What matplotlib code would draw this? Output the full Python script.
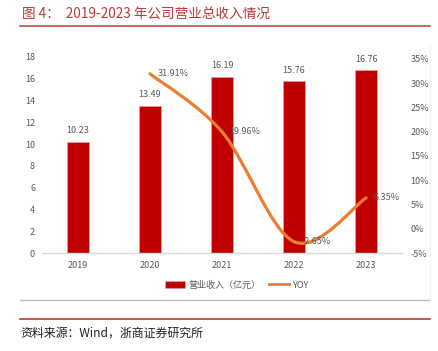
import numpy as np
import matplotlib
matplotlib.use("Agg")
import matplotlib.pyplot as plt
from matplotlib.path import Path
from matplotlib.patches import PathPatch, Rectangle
from matplotlib.lines import Line2D

plt.rcParams['font.family'] = ['Noto Sans CJK SC', 'DejaVu Sans']

years = ["2019", "2020", "2021", "2022", "2023"]
revenue = [10.23, 13.49, 16.19, 15.76, 16.76]
yoy_years = ["2020", "2021", "2022", "2023"]
yoy = [31.91, 19.96, -2.65, 6.35]

left_ticks = list(range(0, 19, 2))
right_ticks = list(range(-5, 36, 5))

BAR = "#C00000"
LINE = "#ED7D31"
GRAY = "#595959"
RED = "#C0504D"


def smooth_path(xs, ys):
    # excel-style smoothed line: catmull-rom as cubic bezier segments
    pts = np.column_stack([xs, ys]).astype(float)
    ext = np.vstack([pts[0], pts, pts[-1]])
    verts = [tuple(pts[0])]
    codes = [Path.MOVETO]
    for i in range(1, len(ext) - 2):
        p0, p1, p2, p3 = ext[i - 1], ext[i], ext[i + 1], ext[i + 2]
        c1 = p1 + (p2 - p0) / 6.0
        c2 = p2 - (p3 - p1) / 6.0
        verts += [tuple(c1), tuple(c2), tuple(p2)]
        codes += [Path.CURVE4] * 3
    return Path(verts, codes)


fig = plt.figure(figsize=(4.39, 3.51), dpi=100)
ax = fig.add_axes([0.0957, 0.279, 0.82, 0.559])

x = np.arange(len(years))
ax.bar(x, revenue, width=0.31, color=BAR, edgecolor="#E8A0A0", linewidth=0.5, zorder=2)
for xi, v in zip(x, revenue):
    ax.text(xi, v + 0.6, f"{v:.2f}", ha="center", va="bottom", fontsize=6.5, color=GRAY)

ax.set_xlim(-0.5, len(years) - 0.5)
ax.set_ylim(0, 18)
ax.set_yticks(left_ticks)
ax.set_xticks(x)
ax.set_xticklabels(years)
ax.tick_params(axis="both", length=0, labelsize=6.5, labelcolor=GRAY)
ax.tick_params(axis="x", pad=6)
ax.tick_params(axis="y", pad=5)
for s in ["top", "right", "left"]:
    ax.spines[s].set_visible(False)
ax.spines["bottom"].set_color("#D9D9D9")
ax.spines["bottom"].set_linewidth(1)

ax2 = ax.twinx()
ax2.set_ylim(-5, 35.4)
ax2.set_yticks(right_ticks)
ax2.set_yticklabels([f"{t}%" for t in right_ticks])
ax2.tick_params(axis="y", length=0, labelsize=6.5, labelcolor=GRAY, pad=6)
for s in ax2.spines.values():
    s.set_visible(False)

xy = np.array([years.index(y) for y in yoy_years])
ax2.add_patch(PathPatch(smooth_path(xy, yoy), facecolor="none", edgecolor=LINE,
                        linewidth=2.3, capstyle="round", zorder=3))
for xi, v in zip(xy, yoy):
    ax2.text(xi + 0.1, v, f"{v:.2f}%", ha="left", va="center", fontsize=6.5, color=GRAY, zorder=4)

handles = [Rectangle((0, 0), 1, 1, facecolor=BAR, edgecolor="#E8A0A0", linewidth=0.5),
           Line2D([0], [0], color=LINE, linewidth=2)]
fig.legend(handles, ["营业收入（亿元）", "YOY"], loc="center", bbox_to_anchor=(0.54, 0.188),
           ncol=2, frameon=False, fontsize=6.5, labelcolor=GRAY, handlelength=2.2,
           handleheight=0.8, columnspacing=1.0, handletextpad=0.4)

# frame lines of the report page
fig.add_artist(Line2D([20 / 439, 430 / 439], [1 - 26 / 351] * 2, color=RED, linewidth=1.2))
fig.add_artist(Line2D([20 / 439, 430 / 439], [1 - 300 / 351] * 2, color="#BFBFBF", linewidth=1))
fig.add_artist(Line2D([430 / 439] * 2, [1 - 45 / 351, 1 - 300 / 351], color="#F2F2F2", linewidth=0.8))
fig.add_artist(Line2D([20 / 439, 430 / 439], [1 - 319 / 351] * 2, color="#C0392B", linewidth=1.2))

fig.text(22 / 439, 1 - 14 / 351, "图 4：  2019-2023 年公司营业总收入情况", fontsize=9.8,
         color="#B83B3B", ha="left", va="center")
fig.text(20 / 439, 1 - 333 / 351, "资料来源：Wind，浙商证券研究所", fontsize=8.6,
         color="#222222", ha="left", va="center")

fig.savefig("out.png", dpi=100)
